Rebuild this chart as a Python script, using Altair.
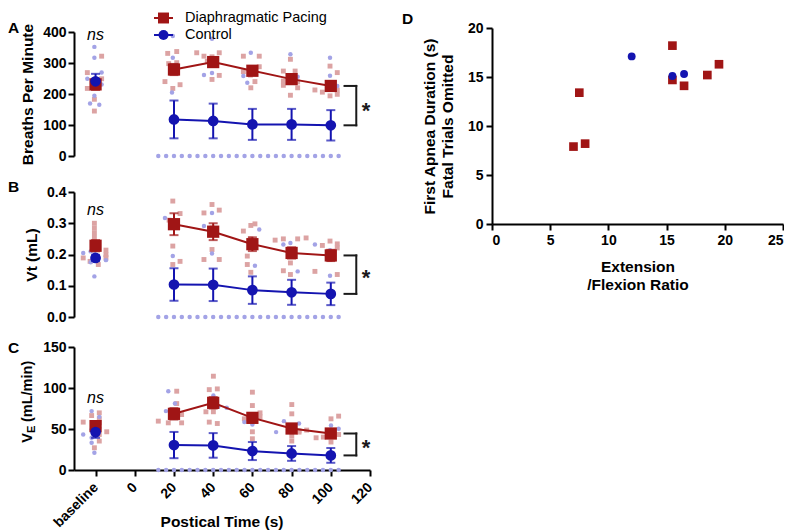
import altair as alt
import pandas as pd

FONT = "Liberation Sans"
RED = "#A01515"
BLUE = "#1414B0"
RED_L = "#DCA3A3"
BLUE_L = "#A3A3E6"
INK = "#1a1a1a"

# ---------------- shared x (postical time) ----------------
X_DOMAIN = [-31, 120]
X_TICKS = [-20, 0, 20, 40, 60, 80, 100, 120]
MEAN_X = [-20, 20, 40, 60, 80, 100]
ZERO_X = [12, 16, 20, 24, 28, 32, 36, 40, 44, 48, 52, 56,
          60, 64, 68, 72, 76, 80, 84, 88, 92, 96, 100, 104]
ZERO_Y = [0, 0, 0, 0, 0, 0, 0, 0, 0, 0, 0, 0,
          0, 0, 0, 0, 0, 0, 0, 0, 0, 0, 0, 0]
BRACKET_X = [107, 113]
STAR_X = 118

# ---------------- Panel A : Breaths per minute ----------------
A_PACE_MEAN = [231, 279, 303, 275, 248, 226]
A_PACE_ERR = [18, 18, 12, 12, 13, 12]
A_CTRL_MEAN = [241, 118, 113, 102, 102, 99]
A_CTRL_ERR = [24, 61, 56, 50, 50, 49]
A_PACE_X = [-24.2, -16.9, -24.2, -16.9, -20.6, -20.6, -20.6, -20.6,
            16.8, 21.4, 17.3, 21.4, 15.4, 23.1, 19.4, 20.0,
            31.6, 35.3, 43.1, 39.4, 43.1, 39.4, 37.0,
            55.4, 63.5, 63.5, 55.4, 61.3, 59.2, 59.0,
            79.4, 75.8, 81.8, 75.8, 83.1, 83.1, 79.4, 75.8,
            99.6, 103.3, 91.9, 95.7, 99.6, 103.3, 103.3]
A_PACE_Y = [269, 322, 218, 249, 183, 145, 231, 240,
            331, 337, 298, 301, 240, 230, 218, 285,
            333, 322, 333, 247, 260, 320, 306,
            322, 322, 288, 272, 240, 220, 261,
            312, 274, 274, 242, 239, 220, 196, 228,
            290, 269, 213, 206, 194, 213, 199]
A_CTRL_X = [-20.6, -20.6, -16.9, -24.2, -16.9, -20.6, -22.8, -18.1,
            19.4, 19.4, 19.0,
            39.4, 35.3, 39.4,
            59.2, 55.4, 57.4,
            79.4, 83.1,
            99.6, 99.6, 103.3]
A_CTRL_Y = [352, 317, 269, 249, 231, 194, 169, 165,
            387, 317, 205,
            378, 261, 268,
            333, 258, 236,
            328, 256,
            317, 259, 226]

# ---------------- Panel B : Vt ----------------
B_PACE_MEAN = [0.228, 0.297, 0.273, 0.233, 0.205, 0.197]
B_PACE_ERR = [0.018, 0.035, 0.027, 0.022, 0.018, 0.018]
B_CTRL_MEAN = [0.189, 0.104, 0.103, 0.086, 0.079, 0.074]
B_CTRL_ERR = [0.010, 0.052, 0.052, 0.044, 0.040, 0.036]
B_PACE_X = [-20.6, -20.6, -20.6, -20.6, -20.6, -26.3, -14.7, -14.7, -18.6, -22.8, -14.7,
            19.4, 23.1, 19.4, 19.4, 23.1, 19.4, 17.5,
            35.3, 39.4, 43.1, 39.4, 39.4, 35.3, 43.1, 39.4,
            55.4, 59.2, 61.3, 57.4, 59.2, 57.4, 59.2,
            71.6, 75.8, 83.1, 87.4, 79.4, 75.8, 79.4,
            95.7, 99.6, 103.3, 103.3, 99.6, 91.9, 103.3]
B_PACE_Y = [0.300, 0.285, 0.270, 0.255, 0.240, 0.189, 0.214, 0.200, 0.168, 0.178, 0.190,
            0.371, 0.331, 0.227, 0.168, 0.178, 0.290, 0.310,
            0.333, 0.360, 0.342, 0.285, 0.264, 0.184, 0.184, 0.216,
            0.275, 0.293, 0.298, 0.168, 0.143, 0.195, 0.250,
            0.246, 0.250, 0.250, 0.253, 0.173, 0.148, 0.136,
            0.229, 0.243, 0.234, 0.221, 0.184, 0.146, 0.136]
B_CTRL_X = [-26.3, -22.5, -22.5, -14.7, -20.6, -18.6, -20.6,
            15.4, 19.4,
            39.4, 35.3, 39.4,
            63.5, 61.3,
            75.8, 79.4, 83.1,
            91.9, 99.6, 99.6]
B_CTRL_Y = [0.205, 0.210, 0.175, 0.182, 0.130, 0.190, 0.200,
            0.317, 0.195,
            0.333, 0.291, 0.203,
            0.280, 0.164,
            0.232, 0.237, 0.146,
            0.232, 0.214, 0.132]

# ---------------- Panel C : VE ----------------
C_PACE_MEAN = [53.5, 68.5, 81.9, 63.6, 50.6, 44.5]
C_PACE_ERR = [5, 7, 7, 5, 5, 5]
C_CTRL_MEAN = [46.2, 30.4, 30.0, 23.1, 20.2, 17.8]
C_CTRL_ERR = [7, 16, 15, 11, 9, 9]
C_PACE_X = [-26.3, -22.0, -18.1, -18.1, -18.1, -14.3, -18.1, -18.1, -20.6, -20.6,
            12.0, 21.4, 21.4, 23.9, 23.9, 17.1,
            40.1, 38.0, 42.1, 36.3, 40.1, 38.0, 42.1,
            60.0, 60.0, 63.9, 63.9, 55.9, 60.0, 60.0,
            80.1, 80.1, 80.1, 80.1, 83.8, 87.7, 83.8,
            100.1, 104.0, 92.5, 96.2, 104.0, 100.1]
C_PACE_Y = [58.4, 66.4, 69.7, 62.4, 57.5, 46.6, 43.3, 35.3, 27.1, 52.0,
            59.6, 96.1, 81.0, 67.6, 57.5, 57.5,
            114.4, 98.0, 98.9, 71.0, 71.0, 58.4, 56.7,
            94.9, 78.6, 69.7, 64.8, 62.4, 46.6, 38.1,
            79.8, 68.5, 35.3, 41.4, 46.2, 48.7, 47.8,
            62.4, 65.7, 39.3, 40.1, 43.3, 34.1]
C_CTRL_X = [-22.0, -26.3, -22.0, -22.0, -20.6, -18.1, -22.0, -18.1,
            17.1, 20.5, 15.9,
            40.1, 42.6, 46.9,
            55.9, 60.0,
            72.1, 76.1, 83.8,
            100.1, 104.0]
C_CTRL_Y = [71.8, 43.3, 39.3, 33.2, 21.0, 51.5, 49.4, 64.8,
            96.1, 81.0, 71.8,
            90.8, 77.0, 75.8,
            58.4, 55.5,
            46.2, 59.6, 56.7,
            54.3, 50.2]

# ---------------- Panel D : scatter ----------------
D_PACE_X = [15.5, 7.5, 7.0, 8.0, 15.5, 16.5, 18.5, 19.5]
D_PACE_Y = [18.2, 13.4, 7.9, 8.2, 14.7, 14.1, 15.2, 16.3]
D_CTRL_X = [12.0, 15.5, 16.5]
D_CTRL_Y = [17.1, 15.1, 15.3]

ONE = pd.DataFrame({"v": [0]})
XS = alt.Scale(domain=X_DOMAIN, nice=False, zero=False)


def label_text(txt, x, y, size=15.5, weight="bold", align="left", angle=0, style="normal"):
    kw = dict(text=txt, font=FONT, fontSize=size, fontWeight=weight, align=align,
              baseline="middle", color="black", fontStyle=style)
    if angle:
        kw["angle"] = angle
    return alt.Chart(ONE).mark_text(**kw).encode(x=alt.value(x), y=alt.value(y))


def panel(pace_x, pace_y, ctrl_x, ctrl_y, pace_m, pace_e, ctrl_m, ctrl_e,
          ydom, yvals, yfmt, ytitle, ns_y, star_y, height, letter, letter_y, show_x):
    ys = alt.Scale(domain=ydom, nice=False, zero=False)
    if ytitle:
        yaxis = alt.Axis(values=yvals, format=yfmt, title=ytitle, titlePadding=7)
    else:
        yaxis = alt.Axis(values=yvals, format=yfmt, title=None)
    if show_x:
        xaxis = alt.Axis(values=X_TICKS,
                         labelExpr="datum.value == -20 ? 'baseline' : datum.label",
                         labelAngle=315, labelAlign="right", labelBaseline="middle",
                         labelPadding=9, title=None)
    else:
        xaxis = None

    def X(f="x"):
        return alt.X(f"{f}:Q", scale=XS, axis=xaxis)

    def Y(f="y"):
        return alt.Y(f"{f}:Q", scale=ys, axis=yaxis)

    pace = pd.DataFrame({"x": pace_x, "y": pace_y})
    ctrl = pd.DataFrame({"x": ctrl_x, "y": ctrl_y})
    zeros = pd.DataFrame({"x": ZERO_X, "y": ZERO_Y})

    def mean_df(m, e):
        return pd.DataFrame({"x": MEAN_X, "y": m,
                             "lo": [a - b for a, b in zip(m, e)],
                             "hi": [a + b for a, b in zip(m, e)]})

    pm = mean_df(pace_m, pace_e)
    cm = mean_df(ctrl_m, ctrl_e)

    def caps(md):
        return pd.DataFrame({"x": list(md["x"]) * 2, "y": list(md["lo"]) + list(md["hi"])})

    top, bot = pace_m[-1], ctrl_m[-1]
    br = pd.DataFrame({"x": [BRACKET_X[0], BRACKET_X[1], BRACKET_X[0]],
                       "x2": [BRACKET_X[1], BRACKET_X[1], BRACKET_X[1]],
                       "y": [top, top, bot], "y2": [top, bot, bot]})

    layers = [
        alt.Chart(pace).mark_square(size=24, color=RED_L, opacity=1).encode(x=X(), y=Y()),
        alt.Chart(ctrl).mark_circle(size=20, color=BLUE_L, opacity=1).encode(x=X(), y=Y()),
        alt.Chart(zeros).mark_circle(size=20, color=BLUE_L, opacity=1, clip=False).encode(x=X(), y=Y()),
        alt.Chart(pm[pm["x"] > 0]).mark_line(color=RED, strokeWidth=2).encode(x=X(), y=Y()),
        alt.Chart(cm[cm["x"] > 0]).mark_line(color=BLUE, strokeWidth=2).encode(x=X(), y=Y()),
        alt.Chart(pm).mark_rule(color=RED, strokeWidth=2).encode(x=X(), y=Y("lo"), y2="hi:Q"),
        alt.Chart(caps(pm)).mark_tick(color=RED, orient="horizontal", size=9, thickness=2).encode(x=X(), y=Y()),
        alt.Chart(cm).mark_rule(color=BLUE, strokeWidth=2).encode(x=X(), y=Y("lo"), y2="hi:Q"),
        alt.Chart(caps(cm)).mark_tick(color=BLUE, orient="horizontal", size=9, thickness=2).encode(x=X(), y=Y()),
        alt.Chart(pm).mark_square(size=150, color=RED, opacity=1).encode(x=X(), y=Y()),
        alt.Chart(cm).mark_circle(size=115, color=BLUE, opacity=1).encode(x=X(), y=Y()),
        alt.Chart(br).mark_rule(color=INK, strokeWidth=2, strokeCap="square", clip=False).encode(
            x=X(), x2="x2:Q", y=Y(), y2="y2:Q"),
        alt.Chart(pd.DataFrame({"x": [STAR_X], "y": [star_y]})).mark_text(
            text="*", font=FONT, fontSize=22, fontWeight="bold", color=INK, baseline="middle",
            dy=5, clip=False).encode(x=X(), y=Y()),
        alt.Chart(pd.DataFrame({"x": [-20], "y": [ns_y]})).mark_text(
            text="ns", font=FONT, fontSize=16, fontStyle="italic", color="black",
            baseline="middle").encode(x=X(), y=Y()),
        label_text(letter, -66, letter_y, size=15.5),
    ]
    return layers


A_layers = panel(A_PACE_X, A_PACE_Y, A_CTRL_X, A_CTRL_Y, A_PACE_MEAN, A_PACE_ERR,
                 A_CTRL_MEAN, A_CTRL_ERR, [0, 400], [0, 100, 200, 300, 400], "d",
                 "Breaths Per Minute", 390, 161, 124, "A", -4.3, False)
LEG_Y1, LEG_Y2 = -14, 3
legend = [
    # invisible guard so the legend text is not clipped at the top edge
    alt.Chart(ONE).mark_rule(opacity=0, strokeWidth=1).encode(
        x=alt.value(111), x2=alt.value(112), y=alt.value(-23.5)),
    alt.Chart(ONE).mark_rule(color=RED, strokeWidth=2).encode(
        x=alt.value(80), x2=alt.value(99), y=alt.value(LEG_Y1)),
    alt.Chart(ONE).mark_square(size=120, color=RED, opacity=1).encode(x=alt.value(89.5), y=alt.value(LEG_Y1)),
    label_text("Diaphragmatic Pacing", 111, LEG_Y1, size=14.5, weight="normal"),
    alt.Chart(ONE).mark_rule(color=BLUE, strokeWidth=2).encode(
        x=alt.value(80), x2=alt.value(99), y=alt.value(LEG_Y2)),
    alt.Chart(ONE).mark_circle(size=100, color=BLUE, opacity=1).encode(x=alt.value(89.5), y=alt.value(LEG_Y2)),
    label_text("Control", 111, LEG_Y2, size=14.5, weight="normal"),
]
A = alt.layer(*(A_layers + legend)).properties(width=296, height=124)

B_layers = panel(B_PACE_X, B_PACE_Y, B_CTRL_X, B_CTRL_Y, B_PACE_MEAN, B_PACE_ERR,
                 B_CTRL_MEAN, B_CTRL_ERR, [0, 0.4], [0, 0.1, 0.2, 0.3, 0.4], ".1f",
                 "Vt (mL)", 0.342, 0.142, 125, "B", -5.3, False)
B = alt.layer(*B_layers).properties(width=296, height=125)

C_layers = panel(C_PACE_X, C_PACE_Y, C_CTRL_X, C_CTRL_Y, C_PACE_MEAN, C_PACE_ERR,
                 C_CTRL_MEAN, C_CTRL_ERR, [0, 150], [0, 50, 100, 150], "d",
                 None, 88, 33, 123, "C", 0.7, True)
C_titles = [
    label_text("V", -46.5, 95.7, size=14.5, angle=270),
    label_text("E", -42.0, 86.0, size=11, angle=270),
    label_text("(mL/min)", -46.5, 75.0, size=14.5, angle=270),
    label_text("Postical Time (s)", 148, 174.5, size=15.5, align="center"),
]
C = alt.layer(*(C_layers + C_titles)).properties(width=296, height=123)


def spacer(h):
    return alt.Chart(ONE).mark_point(size=0, opacity=0).encode(
        x=alt.value(0), y=alt.value(0)).properties(width=296, height=h)


left = alt.vconcat(spacer(2.6), A, spacer(34), B, spacer(28), C, spacing=1, bounds="flush")

DXS = alt.Scale(domain=[0, 25], nice=False, zero=False)
DYS = alt.Scale(domain=[0, 20], nice=False, zero=False)
DXA = alt.Axis(values=[0, 5, 10, 15, 20, 25], title=["Extension", "/Flexion Ratio"],
               titlePadding=12, labelPadding=3, titleLineHeight=18)
DYA = alt.Axis(values=[0, 5, 10, 15, 20], title=["First Apnea Duration (s)", "Fatal Trials Omitted"],
               titlePadding=12, labelPadding=3, titleLineHeight=18)
d_pace = pd.DataFrame({"x": D_PACE_X, "y": D_PACE_Y})
d_ctrl = pd.DataFrame({"x": D_CTRL_X, "y": D_CTRL_Y})
D = alt.layer(
    alt.Chart(d_pace).mark_square(size=75, color=RED, opacity=1).encode(
        x=alt.X("x:Q", scale=DXS, axis=DXA), y=alt.Y("y:Q", scale=DYS, axis=DYA)),
    alt.Chart(d_ctrl).mark_circle(size=62, color=BLUE, opacity=1).encode(
        x=alt.X("x:Q", scale=DXS, axis=DXA), y=alt.Y("y:Q", scale=DYS, axis=DYA)),
    label_text("D", -90, -8.7, size=15.5),
).properties(width=291, height=196)

chart = alt.hconcat(left, D, spacing=27, bounds="full").properties(padding=0).configure_view(
    stroke=None
).configure_axis(
    domainColor="black", domainWidth=2, tickColor="black", tickWidth=2, tickSize=6,
    labelColor="black", labelFont=FONT, labelFontSize=14, labelFontWeight="bold",
    labelPadding=2, titleColor="black", titleFont=FONT, titleFontSize=15.5,
    titleFontWeight="bold", grid=False
)

chart.save("out.html", embed_options={"renderer": "svg", "actions": False})
